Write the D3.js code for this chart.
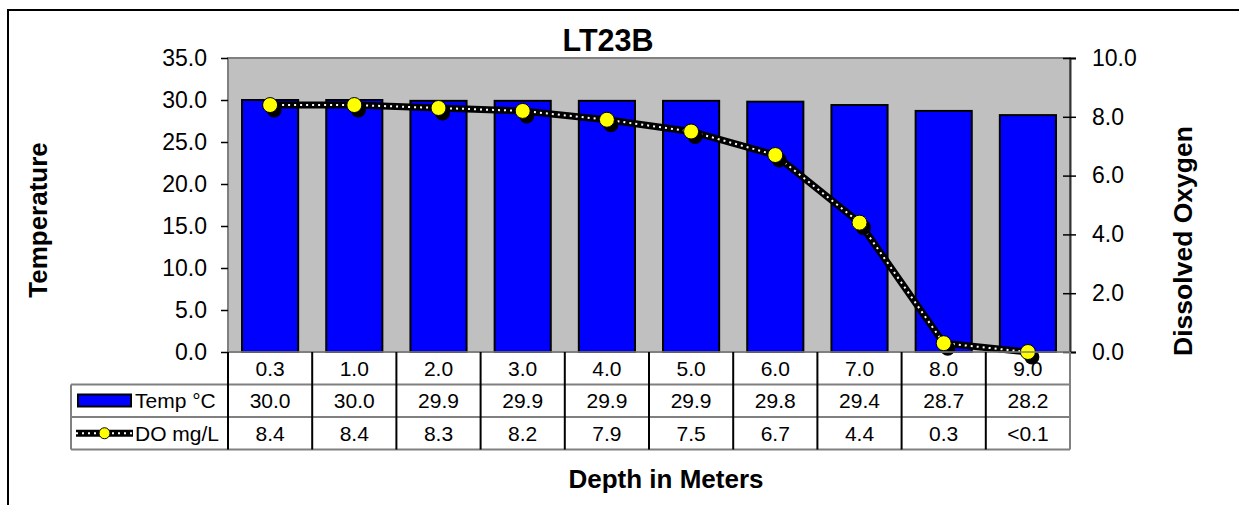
<!DOCTYPE html>
<html>
<head>
<meta charset="utf-8">
<script src="https://cdn.jsdelivr.net/npm/d3@7"></script>
<style>
  body { margin: 0; background: #fff; }
  svg { display: block; font-family: Arial, "Liberation Sans", sans-serif; }
</style>
</head>
<body>
<div class="chart"></div>
<script>
// chart data
var depths = ['0.3', '1.0', '2.0', '3.0', '4.0', '5.0', '6.0', '7.0', '8.0', '9.0'];
var tempValues = [30.0, 30.0, 29.9, 29.9, 29.9, 29.9, 29.8, 29.4, 28.7, 28.2];
var doValues = [8.4, 8.4, 8.3, 8.2, 7.9, 7.5, 6.7, 4.4, 0.3, 0.0];
var tempLabels = ['30.0', '30.0', '29.9', '29.9', '29.9', '29.9', '29.8', '29.4', '28.7', '28.2'];
var doLabels = ['8.4', '8.4', '8.3', '8.2', '7.9', '7.5', '6.7', '4.4', '0.3', '<0.1'];
var tempTicks = [0, 5, 10, 15, 20, 25, 30, 35];
var doTicks = [0, 2, 4, 6, 8, 10];

var w = 1239,
  h = 505,
  plot = { left: 228, right: 1070, top: 58, bottom: 352 },
  rowH = 32.5,
  legendLeft = 71;

var svg = d3.select('.chart')
  .append('svg')
  .attr('width', w)
  .attr('height', h);

// outer frame, runs off the picture at right and bottom
svg.append('rect')
  .attr('x', 8).attr('y', 10)
  .attr('width', 1240).attr('height', 510)
  .attr('fill', 'none')
  .attr('stroke', '#000')
  .attr('stroke-width', 2);

// scales
var x = d3.scaleBand()
  .domain(depths)
  .range([plot.left, plot.right])
  .paddingInner(1 / 3)
  .paddingOuter(1 / 6);

var yTemp = d3.scaleLinear().domain([0, 35]).range([plot.bottom, plot.top]);
var yDO = d3.scaleLinear().domain([0, 10]).range([plot.bottom, plot.top]);

// plot area background
svg.append('rect')
  .attr('x', plot.left).attr('y', plot.top)
  .attr('width', plot.right - plot.left)
  .attr('height', plot.bottom - plot.top)
  .attr('fill', '#c0c0c0')
  .attr('stroke', '#808080')
  .attr('stroke-width', 2);

// temperature bars
svg.selectAll('rect.bar')
  .data(tempValues)
  .enter()
  .append('rect')
  .attr('class', 'bar')
  .attr('x', function (d, i) { return x(depths[i]); })
  .attr('y', function (d) { return yTemp(d); })
  .attr('width', x.bandwidth())
  .attr('height', function (d) { return plot.bottom - yTemp(d); })
  .attr('fill', '#0000ff')
  .attr('stroke', '#000')
  .attr('stroke-width', 2);

// left axis
var leftAxis = d3.axisLeft(yTemp)
  .tickValues(tempTicks)
  .tickFormat(d3.format('.1f'))
  .tickSize(7)
  .tickPadding(14);

var gl = svg.append('g')
  .attr('transform', 'translate(' + plot.left + ',0)')
  .call(leftAxis);
gl.select('.domain').remove();
gl.selectAll('.tick line').attr('stroke', '#000').attr('stroke-width', 1.5);
gl.selectAll('.tick text')
  .attr('font-size', 23)
  .attr('font-family', 'Arial, "Liberation Sans", sans-serif')
  .attr('fill', '#000');

// right axis
var rightAxis = d3.axisRight(yDO)
  .tickValues(doTicks)
  .tickFormat(d3.format('.1f'))
  .tickSize(6)
  .tickPadding(16);

var gr = svg.append('g')
  .attr('transform', 'translate(' + plot.right + ',0)')
  .call(rightAxis);
gr.select('.domain').attr('stroke', '#333').attr('stroke-width', 2);
gr.selectAll('.tick line')
  .attr('x1', -7)
  .attr('stroke', '#000')
  .attr('stroke-width', 1.5);
gr.selectAll('.tick text')
  .attr('font-size', 23)
  .attr('font-family', 'Arial, "Liberation Sans", sans-serif')
  .attr('fill', '#000');

// DO line: black band with white dots
var line = d3.line()
  .x(function (d, i) { return x(depths[i]) + x.bandwidth() / 2; })
  .y(function (d) { return yDO(d); });

svg.append('path')
  .datum(doValues)
  .attr('d', line)
  .attr('fill', 'none')
  .attr('stroke', '#000')
  .attr('stroke-width', 7);

svg.append('path')
  .datum(doValues)
  .attr('d', line)
  .attr('fill', 'none')
  .attr('stroke', '#fff')
  .attr('stroke-width', 2)
  .attr('stroke-dasharray', '2,4');

// marker shadows then yellow markers
svg.selectAll('circle.shadow')
  .data(doValues)
  .enter()
  .append('circle')
  .attr('class', 'shadow')
  .attr('cx', function (d, i) { return x(depths[i]) + x.bandwidth() / 2 + 4; })
  .attr('cy', function (d) { return yDO(d) + 5; })
  .attr('r', 7.5)
  .attr('fill', '#000');

svg.selectAll('circle.marker')
  .data(doValues)
  .enter()
  .append('circle')
  .attr('class', 'marker')
  .attr('cx', function (d, i) { return x(depths[i]) + x.bandwidth() / 2; })
  .attr('cy', function (d) { return yDO(d); })
  .attr('r', 7.5)
  .attr('fill', '#ffff00')
  .attr('stroke', '#000')
  .attr('stroke-width', 1);

// data table under the plot
var step = x.step();
var cellLeft = function (i) { return plot.left + i * step; };
var rowTop = function (r) { return plot.bottom + r * rowH; };
var tableBottom = rowTop(3);

// horizontal lines
[1, 2, 3].forEach(function (r) {
  svg.append('line')
    .attr('x1', legendLeft).attr('x2', plot.right)
    .attr('y1', rowTop(r)).attr('y2', rowTop(r))
    .attr('stroke', '#808080')
    .attr('stroke-width', 2);
});
svg.append('line')
  .attr('x1', plot.left).attr('x2', plot.right)
  .attr('y1', plot.bottom).attr('y2', plot.bottom)
  .attr('stroke', '#808080')
  .attr('stroke-width', 1.5);

// vertical lines
d3.range(0, depths.length + 1).forEach(function (i) {
  svg.append('line')
    .attr('x1', cellLeft(i)).attr('x2', cellLeft(i))
    .attr('y1', plot.bottom).attr('y2', tableBottom)
    .attr('stroke', i === depths.length ? '#808080' : '#000')
    .attr('stroke-width', 2);
});
svg.append('line')
  .attr('x1', legendLeft).attr('x2', legendLeft)
  .attr('y1', rowTop(1)).attr('y2', tableBottom)
  .attr('stroke', '#808080')
  .attr('stroke-width', 2);

// cell texts
var rows = [depths, tempLabels, doLabels];
rows.forEach(function (labels, r) {
  svg.selectAll('text.row' + r)
    .data(labels)
    .enter()
    .append('text')
    .attr('class', 'row' + r)
    .attr('x', function (d, i) { return cellLeft(i) + step / 2; })
    .attr('y', rowTop(r) + rowH / 2)
    .attr('dy', '0.36em')
    .attr('text-anchor', 'middle')
    .attr('font-size', 21)
    .text(function (d) { return d; });
});

// legend keys in the table
svg.append('rect')
  .attr('x', 78).attr('y', rowTop(1) + 10)
  .attr('width', 53).attr('height', 12)
  .attr('fill', '#0000ff')
  .attr('stroke', '#000')
  .attr('stroke-width', 2);

svg.append('text')
  .attr('x', 135)
  .attr('y', rowTop(1) + rowH / 2)
  .attr('dy', '0.36em')
  .attr('font-size', 21)
  .text('Temp °C');

var keyY = rowTop(2) + rowH / 2;
svg.append('line')
  .attr('x1', 76).attr('x2', 133)
  .attr('y1', keyY).attr('y2', keyY)
  .attr('stroke', '#000')
  .attr('stroke-width', 7);
svg.append('line')
  .attr('x1', 76).attr('x2', 133)
  .attr('y1', keyY).attr('y2', keyY)
  .attr('stroke', '#fff')
  .attr('stroke-width', 2)
  .attr('stroke-dasharray', '2,4');
svg.append('circle')
  .attr('cx', 104.5).attr('cy', keyY)
  .attr('r', 5.5)
  .attr('fill', '#ffff00')
  .attr('stroke', '#000')
  .attr('stroke-width', 1);

svg.append('text')
  .attr('x', 135)
  .attr('y', keyY)
  .attr('dy', '0.36em')
  .attr('font-size', 21)
  .text('DO mg/L');

// titles
svg.append('text')
  .attr('x', 608)
  .attr('y', 51)
  .attr('text-anchor', 'middle')
  .attr('font-size', 30.5)
  .attr('font-weight', 'bold')
  .text('LT23B');

svg.append('text')
  .attr('transform', 'translate(47,220) rotate(-90)')
  .attr('text-anchor', 'middle')
  .attr('font-size', 26)
  .attr('font-weight', 'bold')
  .text('Temperature');

svg.append('text')
  .attr('transform', 'translate(1192,241) rotate(-90)')
  .attr('text-anchor', 'middle')
  .attr('font-size', 26.5)
  .attr('font-weight', 'bold')
  .text('Dissolved Oxygen');

svg.append('text')
  .attr('x', 666)
  .attr('y', 488)
  .attr('text-anchor', 'middle')
  .attr('font-size', 26)
  .attr('font-weight', 'bold')
  .text('Depth in Meters');
</script>
</body>
</html>
